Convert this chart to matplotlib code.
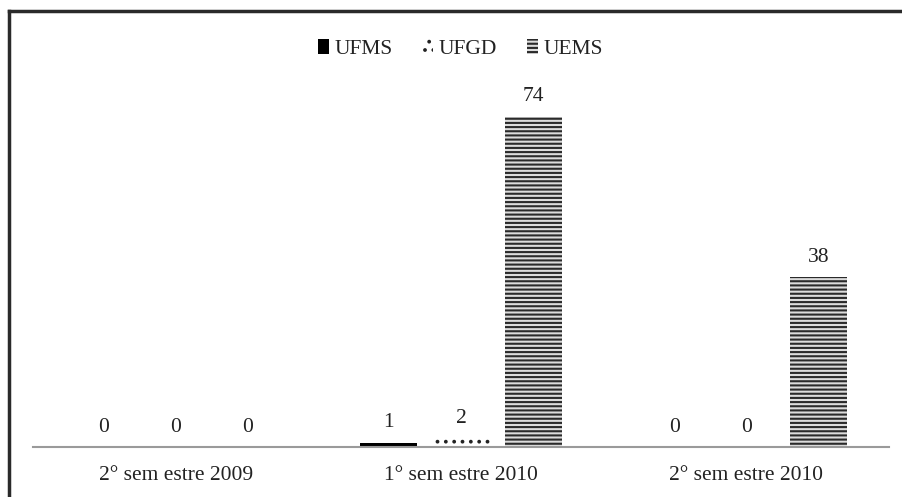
import matplotlib
matplotlib.use("Agg")
import matplotlib.pyplot as plt
import numpy as np
from matplotlib.lines import Line2D

categories = ["2° sem estre 2009", "1° sem estre 2010", "2° sem estre 2010"]
series_names = ["UFMS", "UFGD", "UEMS"]
ufms = [0, 1, 0]
ufgd = [0, 2, 0]
uems = [0, 74, 38]

plt.rcParams['font.family'] = ['Liberation Serif', 'DejaVu Serif']
plt.rcParams['hatch.linewidth'] = 1.5

W, H = 903, 497
fig = plt.figure(figsize=(W/100, H/100), dpi=100)
ax = fig.add_axes([33/W, 50/H, (889-33)/W, (447-90)/H])

x = np.arange(len(categories))
bw = 0.2
off = 0.253
styles = [
    dict(facecolor="black", edgecolor="black", hatch=None),
    dict(facecolor="white", edgecolor="#222222", hatch=".."),
    dict(facecolor="#dcdcdc", edgecolor="#2a2a2a", hatch="----"),
]
data = [ufms, ufgd, uems]
FS = 15.5
for i, (vals, st) in enumerate(zip(data, styles)):
    xs = x + (i - 1) * off
    ax.bar(xs, vals, width=bw, linewidth=0, label=series_names[i], **st)
    for xx, v in zip(xs, vals):
        ax.annotate(str(v), (xx, v), xytext=(0, 7.5), textcoords="offset points",
                    ha="center", va="bottom", fontsize=FS, color="#222222")

ax.set_xlim(-0.5, 2.5)
ax.set_ylim(0, 80)
ax.set_yticks([])
ax.set_xticks(x)
ax.set_xticklabels(categories, fontsize=FS, color="#222222")
ax.tick_params(axis="x", length=0, pad=14)
for s in ["top", "right", "left"]:
    ax.spines[s].set_visible(False)
ax.spines["bottom"].set_color("#9a9a9a")
ax.spines["bottom"].set_linewidth(1.5)

leg = ax.legend(loc="upper center", bbox_to_anchor=(0.51, (497-20)/H), bbox_transform=fig.transFigure,
                ncol=3, frameon=False, fontsize=FS, handlelength=0.5, handleheight=0.65,
                columnspacing=1.4, handletextpad=0.25)
for t in leg.get_texts():
    t.set_color("#222222")

# frame lines (left and top)
fig.add_artist(Line2D([8.5/W, 8.5/W], [0, 1 - 11/H], color="#2a2a2a", linewidth=2.5, transform=fig.transFigure))
fig.add_artist(Line2D([8.5/W, 1], [1 - 11/H, 1 - 11/H], color="#2a2a2a", linewidth=2.5, transform=fig.transFigure))

fig.savefig("out.png", dpi=100)
